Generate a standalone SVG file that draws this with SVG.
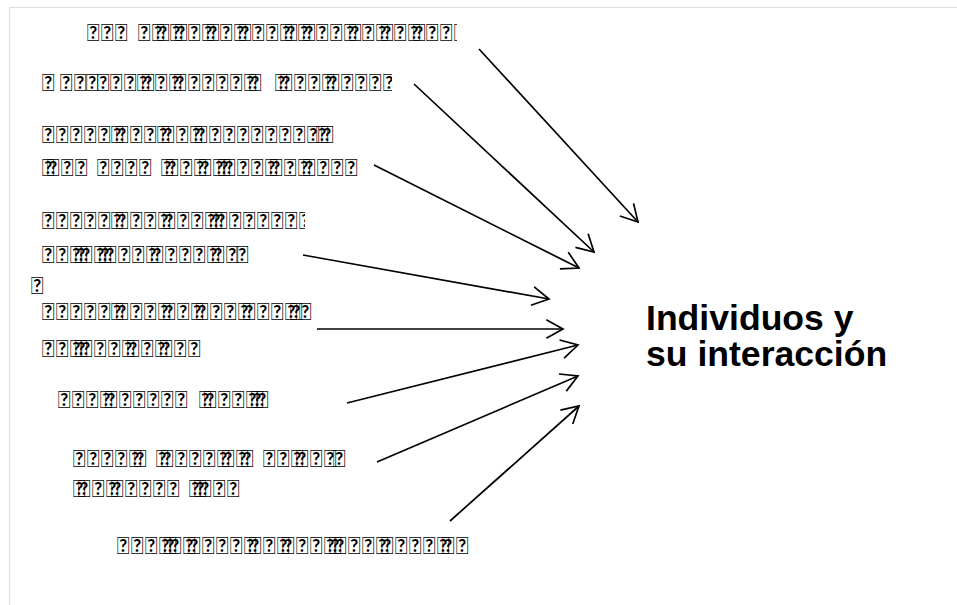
<svg xmlns="http://www.w3.org/2000/svg" width="957" height="605" viewBox="0 0 957 605">
<style>
.t{font-family:Lato,sans-serif;font-size:24px;fill:#000}
.h{font-family:"Liberation Sans",Arial,sans-serif;font-size:35.6px;font-weight:bold;fill:#000}
.c{stroke:#000;stroke-width:1.7;fill:none;marker-end:url(#ah)}
</style>
<defs>
<marker id="ah" markerUnits="userSpaceOnUse" viewBox="-20 -12 24 24" refX="0" refY="0" markerWidth="24" markerHeight="24" orient="auto" overflow="visible">
<path d="M-16.7,-9.3 L0,0 L-16.7,9.3" fill="none" stroke="#000" stroke-width="1.7"/>
</marker>
<clipPath id="c1"><rect x="0" y="0" width="457" height="605"/></clipPath>
<clipPath id="c2"><rect x="0" y="0" width="392" height="605"/></clipPath>
<clipPath id="c4"><rect x="0" y="0" width="305" height="605"/></clipPath>
<clipPath id="c5"><rect x="0" y="0" width="312" height="605"/></clipPath>
<clipPath id="c6"><rect x="0" y="0" width="270" height="605"/></clipPath>
<clipPath id="c8"><rect x="0" y="0" width="470" height="605"/></clipPath>
</defs>
<rect x="0" y="0" width="957" height="605" fill="#fff"/>
<rect x="9.5" y="7.5" width="960" height="610" fill="none" stroke="#ddd" stroke-width="1"/>
<g id="item1" clip-path="url(#c1)"><text class="t" y="41" x="87 101 115 138 152 157 170 175 188 202 207 220 234 239 252 266 280 285 298 303 316 330 344 349 362 376 381 394 408 413 426 440 454">&#xE000;&#xE000;&#xE000;&#xE000;&#xE000;&#xE000;&#xE000;&#xE000;&#xE000;&#xE000;&#xE000;&#xE000;&#xE000;&#xE000;&#xE000;&#xE000;&#xE000;&#xE000;&#xE000;&#xE000;&#xE000;&#xE000;&#xE000;&#xE000;&#xE000;&#xE000;&#xE000;&#xE000;&#xE000;&#xE000;&#xE000;&#xE000;&#xE000;</text></g>
<g id="item2" clip-path="url(#c2)"><text class="t" y="91" x="42 60 74 86 97 110 124 137 142 155 169 174 188 202 216 230 244 249 275 280 294 308 322 327 341 355 369 383">&#xE000;&#xE000;&#xE000;&#xE000;&#xE000;&#xE000;&#xE000;&#xE000;&#xE000;&#xE000;&#xE000;&#xE000;&#xE000;&#xE000;&#xE000;&#xE000;&#xE000;&#xE000;&#xE000;&#xE000;&#xE000;&#xE000;&#xE000;&#xE000;&#xE000;&#xE000;&#xE000;&#xE000;</text></g>
<g id="item3">
<text class="t" y="143" x="42 56 70 84 98 111 116 130 144 157 162 176 190 195 209 223 237 251 265 279 293 307 316 321">&#xE000;&#xE000;&#xE000;&#xE000;&#xE000;&#xE000;&#xE000;&#xE000;&#xE000;&#xE000;&#xE000;&#xE000;&#xE000;&#xE000;&#xE000;&#xE000;&#xE000;&#xE000;&#xE000;&#xE000;&#xE000;&#xE000;&#xE000;&#xE000;</text>
<text class="t" y="176" x="42 47 61 75 97 111 125 139 161 166 180 194 199 213 218 223 237 251 265 270 284 298 303 317 331 345">&#xE000;&#xE000;&#xE000;&#xE000;&#xE000;&#xE000;&#xE000;&#xE000;&#xE000;&#xE000;&#xE000;&#xE000;&#xE000;&#xE000;&#xE000;&#xE000;&#xE000;&#xE000;&#xE000;&#xE000;&#xE000;&#xE000;&#xE000;&#xE000;&#xE000;&#xE000;</text>
</g>
<g id="item4">
<text class="t" clip-path="url(#c4)" y="229" x="42 56 70 84 98 111 116 130 144 158 163 177 191 205 210 215 229 243 257 271 285 299">&#xE000;&#xE000;&#xE000;&#xE000;&#xE000;&#xE000;&#xE000;&#xE000;&#xE000;&#xE000;&#xE000;&#xE000;&#xE000;&#xE000;&#xE000;&#xE000;&#xE000;&#xE000;&#xE000;&#xE000;&#xE000;&#xE000;</text>
<text class="t" y="263" x="42 56 70 75 80 94 99 104 118 132 146 151 165 179 193 207 212 226 236">&#xE000;&#xE000;&#xE000;&#xE000;&#xE000;&#xE000;&#xE000;&#xE000;&#xE000;&#xE000;&#xE000;&#xE000;&#xE000;&#xE000;&#xE000;&#xE000;&#xE000;&#xE000;&#xE000;</text>
</g>
<g id="item5">
<text class="t" y="294" x="31">&#xE000;</text>
<text class="t" clip-path="url(#c5)" y="320" x="42 56 70 84 98 111 116 130 144 158 163 177 191 196 210 224 238 243 257 271 285 290 299">&#xE000;&#xE000;&#xE000;&#xE000;&#xE000;&#xE000;&#xE000;&#xE000;&#xE000;&#xE000;&#xE000;&#xE000;&#xE000;&#xE000;&#xE000;&#xE000;&#xE000;&#xE000;&#xE000;&#xE000;&#xE000;&#xE000;&#xE000;</text>
<text class="t" y="357" x="42 56 70 75 80 94 108 122 127 141 155 160 174 188">&#xE000;&#xE000;&#xE000;&#xE000;&#xE000;&#xE000;&#xE000;&#xE000;&#xE000;&#xE000;&#xE000;&#xE000;&#xE000;&#xE000;</text>
</g>
<g id="item6" clip-path="url(#c6)"><text class="t" y="408" x="58 72 86 100 105 119 133 147 161 175 199 204 218 232 246 251 256">&#xE000;&#xE000;&#xE000;&#xE000;&#xE000;&#xE000;&#xE000;&#xE000;&#xE000;&#xE000;&#xE000;&#xE000;&#xE000;&#xE000;&#xE000;&#xE000;&#xE000;</text></g>
<g id="item7">
<text class="t" y="467" x="73 87 101 115 129 134 156 161 175 189 203 217 222 236 241 263 277 291 296 310 324 333">&#xE000;&#xE000;&#xE000;&#xE000;&#xE000;&#xE000;&#xE000;&#xE000;&#xE000;&#xE000;&#xE000;&#xE000;&#xE000;&#xE000;&#xE000;&#xE000;&#xE000;&#xE000;&#xE000;&#xE000;&#xE000;&#xE000;</text>
<text class="t" y="497" x="73 78 92 106 111 125 139 153 167 189 194 199 213 227">&#xE000;&#xE000;&#xE000;&#xE000;&#xE000;&#xE000;&#xE000;&#xE000;&#xE000;&#xE000;&#xE000;&#xE000;&#xE000;&#xE000;</text>
</g>
<g id="item8" clip-path="url(#c8)"><text class="t" y="554" x="117 131 145 159 164 169 183 188 202 216 230 244 249 263 277 282 296 310 324 329 334 348 362 376 381 395 409 423 437 442 456">&#xE000;&#xE000;&#xE000;&#xE000;&#xE000;&#xE000;&#xE000;&#xE000;&#xE000;&#xE000;&#xE000;&#xE000;&#xE000;&#xE000;&#xE000;&#xE000;&#xE000;&#xE000;&#xE000;&#xE000;&#xE000;&#xE000;&#xE000;&#xE000;&#xE000;&#xE000;&#xE000;&#xE000;&#xE000;&#xE000;&#xE000;</text></g>
<g id="target">
<text class="h" x="646" y="330">Individuos y</text>
<text class="h" x="646" y="366">su interacción</text>
</g>
<g id="connectors">
<line class="c" x1="479" y1="49" x2="638" y2="222"/>
<line class="c" x1="414" y1="84" x2="594" y2="252"/>
<line class="c" x1="374" y1="165" x2="579" y2="268"/>
<line class="c" x1="303" y1="255" x2="549" y2="299"/>
<line class="c" x1="317" y1="329" x2="563" y2="329"/>
<line class="c" x1="347" y1="403" x2="578" y2="345"/>
<line class="c" x1="377" y1="462" x2="578" y2="376"/>
<line class="c" x1="450" y1="521" x2="579" y2="406"/>
</g>
</svg>
